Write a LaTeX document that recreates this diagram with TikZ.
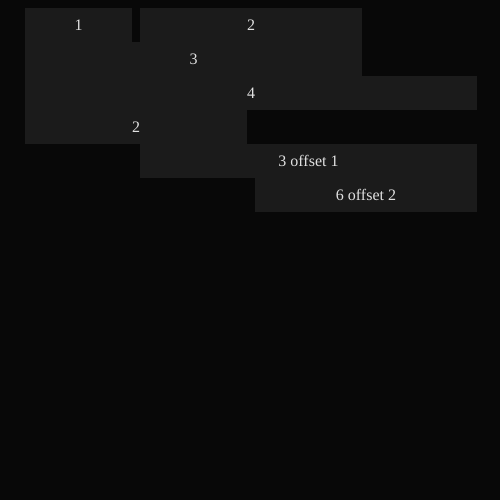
\documentclass[tikz,border=0pt]{standalone}
\usepackage{fontspec}
\setmainfont{Liberation Serif}
\definecolor{bg}{RGB}{8,8,8}
\definecolor{cellbg}{RGB}{27,27,27}
\definecolor{cellfg}{RGB}{225,225,225}
\tikzset{
  cell/.style={shape=rectangle,fill=cellbg,text=cellfg,inner sep=0pt,
    minimum height=34pt,font=\fontsize{16}{19}\selectfont}
}
\begin{document}
\begin{tikzpicture}[x=1pt,y=-1pt]
  \useasboundingbox[fill=bg] (0,0) rectangle (500,500);

  \node[cell,minimum width=107pt] (R1a) at (78.5,25) {1};
  \node[cell,minimum width=222pt] (R1b) at (251,25) {2};

  \node[cell,minimum width=337pt] (R2) at (193.5,59) {3};
  \node[cell,minimum width=452pt] (R3) at (251,93) {4};
  \node[cell,minimum width=222pt] (R4) at (136,127) {2};

  \node[cell,minimum width=337pt] (R5) at (308.5,161) {3 offset 1};
  \node[cell,minimum width=222pt] (R6) at (366,195) {6 offset 2};
\end{tikzpicture}
\end{document}
